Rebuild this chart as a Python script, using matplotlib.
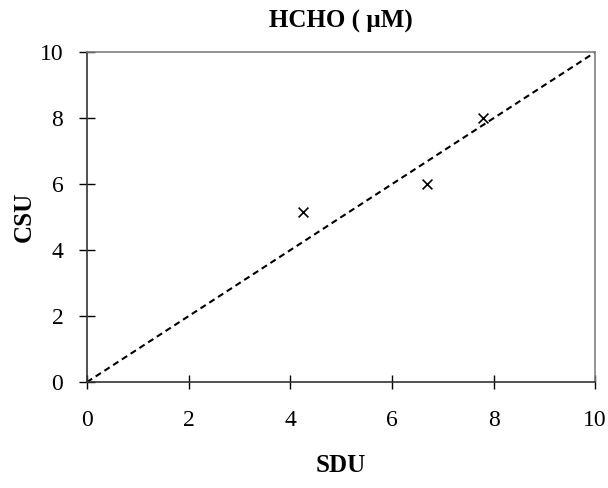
import matplotlib.pyplot as plt

plt.rcParams['font.family'] = ['Liberation Serif', 'DejaVu Serif']

# data
sdu = [4.25, 6.7, 7.8]
csu = [5.15, 6.0, 8.0]
line_xy = [0, 10]
ticks = [0, 2, 4, 6, 8, 10]

fig = plt.figure(figsize=(6.08, 4.88), dpi=100)
ax = fig.add_axes([0.143, 0.217, 0.836, 0.676])

ax.plot(line_xy, line_xy, linestyle=(0, (3, 2)), color="black", linewidth=1.5)
ax.scatter(sdu, csu, marker="x", color="black", s=50, linewidths=1.2, zorder=3)

ax.set_xlim(0, 10)
ax.set_ylim(0, 10)
ax.set_xticks(ticks)
ax.set_yticks(ticks)
ax.tick_params(axis="x", direction="inout", length=10, width=1, labelsize=17, pad=15)
ax.tick_params(axis="y", direction="inout", length=12, width=1, labelsize=17, pad=11)

for side in ("top", "right"):
    ax.spines[side].set_color("#808080")
    ax.spines[side].set_linewidth(1.2)
for side in ("left", "bottom"):
    ax.spines[side].set_color("#333333")
    ax.spines[side].set_linewidth(1.2)

ax.set_xlabel("SDU", fontsize=18, fontweight="bold", labelpad=17)
ax.set_ylabel("CSU", fontsize=18, fontweight="bold", labelpad=3)
ax.set_title("HCHO ( \u00b5M)", fontsize=18, fontweight="bold", pad=18)

fig.savefig("out.png", dpi=100, facecolor="white")
